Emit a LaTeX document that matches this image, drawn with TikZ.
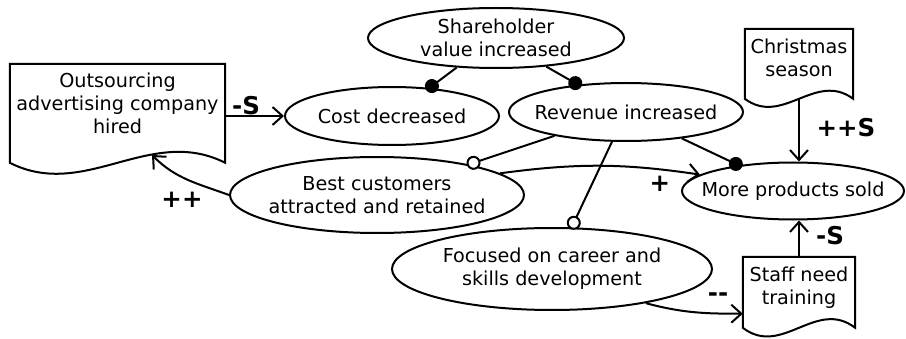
\documentclass[tikz,border=0pt]{standalone}
\usepackage{fontspec}
\setmainfont{DejaVu Sans}
\usetikzlibrary{shapes.geometric,arrows.meta}

\tikzset{
  bubble/.style={ellipse, draw, line width=2pt, inner sep=0pt},
  btext/.style={align=center, inner sep=0pt},
  doctext/.style={rectangle, inner sep=0pt, align=center},
  docline/.style={line width=2pt, line join=miter},
  arr/.style={line width=2pt, -{Straight Barb[length=10pt,width=18pt]}},
  dotline/.style={line width=2pt, -{Circle[length=14pt]}, shorten >=-4pt},
  ringline/.style={line width=2pt, -{Circle[open,length=14pt,fill=white]}, shorten >=-2pt},
  sign/.style={font=\bfseries\fontsize{24.5}{28}\selectfont, inner sep=0pt}
}

% document outline: node, width, side length, wave depth
\newcommand{\docoutline}[4]{%
  \draw[docline] (#1.north west) -- (#1.north east) -- ([yshift=-#3pt]#1.north east)
    .. controls +(-0.35*#2,#4) and +(0.35*#2,-#4) .. ([yshift=-#3pt]#1.north west) -- cycle;
  \coordinate (#1-bot) at ([yshift=-#3pt]#1.north);
}

\begin{document}
\begin{tikzpicture}[x=1pt, y=1pt, font=\fontsize{19.2}{23}\selectfont]
  \useasboundingbox (0,0) rectangle (906,338);

  % Ellipses
  \node[bubble, minimum width=256pt, minimum height=60pt, label={[btext, name=share-t]center:Shareholder\\value increased}] (share) at (496,300) {};
  \node[bubble, minimum width=214pt, minimum height=58pt, label={[btext, name=cost-t]center:Cost decreased}] (cost) at (392,222) {};
  \node[bubble, minimum width=234pt, minimum height=58pt, label={[btext, name=rev-t]center:Revenue increased}] (rev) at (626,226) {};
  \node[bubble, minimum width=294pt, minimum height=76pt, label={[btext, name=best-t]center:Best customers\\attracted and retained}] (best) at (377,143) {};
  \node[bubble, minimum width=320pt, minimum height=82pt, label={[btext, name=focus-t]center:Focused on career and\\skills development}] (focus) at (552,69) {};
  \node[bubble, minimum width=222pt, minimum height=57pt, label={[btext, name=more-t]center:More products sold}] (more) at (793,147) {};

  % Documents
  \node[doctext, minimum width=215pt, minimum height=78pt] (out) at (117.5,235) {Outsourcing\\advertising company\\hired};
  \docoutline{out}{215}{99}{38}
  \node[doctext, minimum width=108pt, minimum height=57pt] (xmas) at (799,280.5) {Christmas\\season};
  \docoutline{xmas}{108}{70}{28}
  \node[doctext, minimum width=112pt, minimum height=61pt] (staff) at (799,50.5) {Staff need\\training};
  \docoutline{staff}{112}{71}{30}

  % Links
  \draw[arr] (out.east |- cost.west) -- (cost.west);
  \draw[dotline] (share) -- (cost);
  \draw[dotline] (share) -- (rev);
  \draw[dotline] (rev) -- (more);
  \draw[ringline] (rev) -- (best);
  \draw[ringline] (rev) -- (focus);
  \draw[arr] (best.10) to[bend left=8] (more.170);
  \coordinate (outtip) at (152,183);
  \draw[arr] (best.west) to[out=160,in=-45] (outtip);
  \draw[arr] (focus.-20) to[out=-15,in=180] (staff.205);
  \draw[arr] (xmas-bot) -- (xmas-bot |- more.north);
  \draw[arr] (staff.north) -- (staff.north |- more.south);

  % Signs
  \node[sign] (lcost) at (246,232) {-S};
  \node[sign] (lxmas) at (846,210) {++S};
  \node[sign] (lstaff) at (830,102) {-S};
  \node[sign] (lbest) at (660,154) {+};
  \node[sign] (lout) at (182,138) {++};
  \node[sign] (lfocus) at (718,41) {-{}-};
\end{tikzpicture}
\end{document}
